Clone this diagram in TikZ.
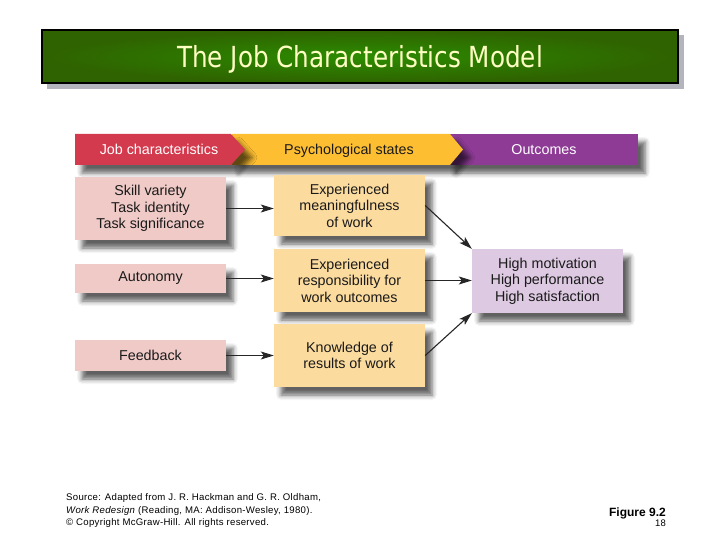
\documentclass[tikz,border=0pt]{standalone}
\usepackage{fontspec}
\setmainfont{Liberation Sans}
\newfontfamily\titlefont[FakeStretch=0.85]{DejaVu Sans}
\usetikzlibrary{arrows.meta,shadows.blur}
\definecolor{titlegreenin}{HTML}{2C8C00}
\definecolor{titlegreenout}{HTML}{2F6200}
\definecolor{titletext}{HTML}{FFFFC4}
\definecolor{hred}{HTML}{D33A4E}
\definecolor{hyellow}{HTML}{FDBE32}
\definecolor{hpurple}{HTML}{8D3B95}
\definecolor{pinkbox}{HTML}{EFCAC7}
\definecolor{yelbox}{HTML}{FCDB9E}
\definecolor{purbox}{HTML}{DDC9E1}
\definecolor{txt}{HTML}{1A1A1A}
\definecolor{tshadow}{HTML}{B4B4BC}
\tikzset{
  soft/.style={blur shadow={shadow xshift=7pt,shadow yshift=-8pt,shadow blur radius=5pt,shadow opacity=62}},
  box/.style={rectangle,inner sep=0pt,minimum width=151pt,align=center,text=txt,
    font=\fontsize{14.3}{16.5}\selectfont,soft},
  pinkb/.style={box,fill=pinkbox},
  yelb/.style={box,fill=yelbox},
  purb/.style={box,fill=purbox},
  conn/.style={line width=1.1pt,draw=black!85,-{Stealth[length=13pt,width=8pt,inset=3pt]}},
  htext/.style={font=\fontsize{14.3}{16}\selectfont,inner sep=0pt,anchor=base},
}
\begin{document}
\begin{tikzpicture}[x=1pt,y=-1pt]
\useasboundingbox (0,0) rectangle (720,540);
% title
\fill[tshadow] (47,35) rectangle (684,89);
\shade[inner color=titlegreenin,outer color=titlegreenout] (42,30) rectangle (678,83);
\draw[line width=2pt,black] (42,30) rectangle (678,83);
\node[text=titletext,font=\titlefont\fontsize{29}{33}\selectfont,anchor=base,inner sep=0pt] (title) at (360,68) {The Job Characteristics Model};
% header arrows
\fill[hpurple,soft] (448,134) -- (638,134) -- (638,165) -- (448,165) -- cycle;
\fill[hyellow,soft] (232,134) -- (450,134) -- (463,149.5) -- (450,165) -- (232,165) -- cycle;
\fill[hred,soft] (75,134) -- (231,134) -- (245,149.5) -- (231,165) -- (75,165) -- cycle;
\node[htext,text=white] (h1) at (159,154.5) {Job characteristics};
\node[htext,text=txt] (h2) at (349,154.5) {Psychological states};
\node[htext,text=white] (h3) at (544,154.5) {Outcomes};
% boxes
\node[pinkb,minimum height=63pt] (p1) at (150.5,208.5) {Skill variety\\Task identity\\Task significance};
\node[pinkb,minimum height=29pt] (p2) at (150.5,278.5) {Autonomy};
\node[pinkb,minimum height=31pt] (p3) at (150.5,355.5) {Feedback};
\node[yelb,minimum height=61pt] (y1) at (349.5,205.5) {Experienced\\meaningfulness\\of work};
\node[yelb,minimum height=63pt] (y2) at (349.5,280.5) {Experienced\\responsibility for\\work outcomes};
\node[yelb,minimum height=63pt] (y3) at (349.5,355.5) {Knowledge of\\results of work};
\node[purb,minimum height=64pt] (o) at (547.5,281) {High motivation\\High performance\\High satisfaction};
% connectors
\draw[conn] (p1.east) -- (p1.east -| y1.west);
\draw[conn] (p2.east) -- (p2.east -| y2.west);
\draw[conn] (p3.east) -- (p3.east -| y3.west);
\draw[conn] (y1.east) -- (o.north west);
\draw[conn] (y2.east) -- (y2.east -| o.west);
\draw[conn] (y3.east) -- (o.south west);
% footer
\node[anchor=north west,align=left,inner sep=0pt,text=black,font=\fontsize{9.6}{12.4}\selectfont\addfontfeature{LetterSpace=3}] (src) at (66,493.5)
  {Source: Adapted from J. R. Hackman and G. R. Oldham,\\\textit{Work Redesign} (Reading, MA: Addison-Wesley, 1980).\\\textcopyright{} Copyright McGraw-Hill. All rights reserved.};
\node[anchor=base east,inner sep=0pt,font=\bfseries\fontsize{12}{14}\selectfont] (fig) at (666,516) {Figure 9.2};
\node[anchor=base east,inner sep=0pt,font=\fontsize{9.5}{11}\selectfont] (pg) at (666,526.5) {18};
\end{tikzpicture}
\end{document}
